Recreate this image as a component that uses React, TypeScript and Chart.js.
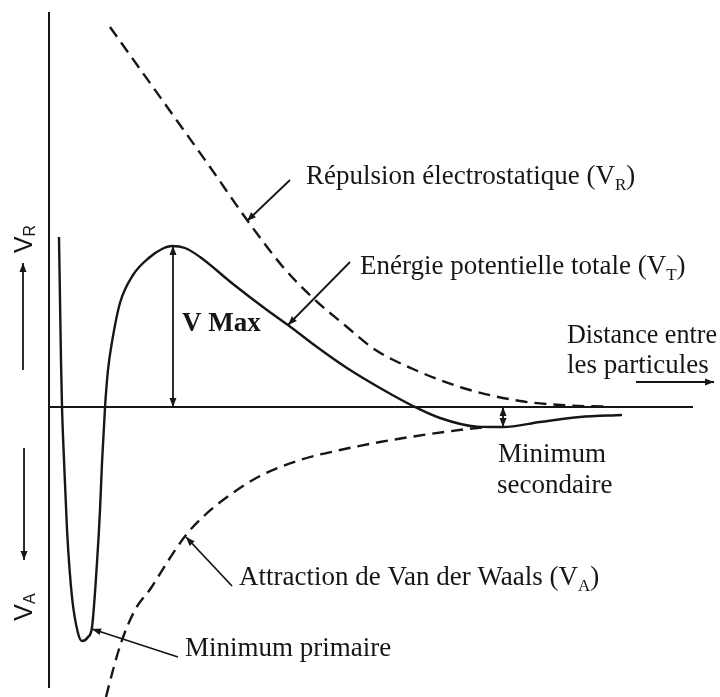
import React, { useEffect, useRef } from "react";
import { Chart, registerables } from "chart.js";

Chart.register(...registerables);

// ---- Data (distance on x: 0..100, energy on y: 0 at the distance axis) ----
const VR_X = [9.47, 14.13, 19.57, 25.0, 30.75, 36.34, 40.99, 46.27, 50.47, 56.52, 64.29, 73.14, 80.43, 86.34];
const VR_Y = [95, 84.5, 72.25, 60, 46.75, 35, 27.25, 20, 14.5, 9.5, 4.75, 1.5, 0.4, 0.1];

const VT_X = [1.55, 1.71, 1.86, 2.02, 2.33, 2.8, 3.57, 4.5, 5.12, 6.06, 6.68, 7.45, 7.92, 8.23, 8.7, 9.16, 9.78, 11.02, 13.04, 15.68, 17.55, 19.1, 21.12, 23.45, 28.57, 33.85, 37.11, 41.61, 46.27, 51.4, 56.52, 60.71, 66.46, 70.5, 76.24, 82.45, 88.97];
const VT_Y = [42.5, 26.75, 11.75, 0, -13.25, -30.75, -47.5, -56.5, -58.5, -57.5, -55, -39, -25.75, -14, 0, 9.25, 16.25, 26, 33, 37.5, 39.5, 40.25, 39.75, 37.5, 30.75, 24.25, 20.5, 15, 9.75, 4.75, 0.25, -2.75, -4.9, -5, -3.75, -2.5, -2];

const VA_X = [8.85, 9.94, 11.18, 13.35, 15.84, 18.48, 21.27, 24.22, 27.02, 32.76, 38.98, 45.19, 51.4, 59.16, 66.46, 68.48];
const VA_Y = [-72.5, -65.75, -59, -50.75, -45.25, -38.5, -32, -27, -23.25, -17.25, -13.25, -10.75, -8.75, -6.75, -5.25, -5];

const AXIS_X = [0, 100];
const AXIS_Y = [98.75, -70.25];

// ---- Annotations (data units) ----
type Part = [string, boolean?];
const TEXTS: { parts: Part[]; x: number; y: number; bold?: boolean; maxW?: number }[] = [
  { parts: [["Répulsion électrostatique (V"], ["R", true], [")"]], x: 39.91, y: 55.75 },
  { parts: [["Enérgie potentielle totale (V"], ["T", true], [")"]], x: 48.29, y: 33.25 },
  { parts: [["V Max"]], x: 20.65, y: 19, bold: true },
  { parts: [["Distance entre"]], x: 80.43, y: 16, maxW: 150 },
  { parts: [["les particules"]], x: 80.43, y: 8.6, maxW: 142 },
  { parts: [["Minimum"]], x: 69.72, y: -13.75 },
  { parts: [["secondaire"]], x: 69.57, y: -21.5 },
  { parts: [["Attraction de Van der Waals (V"], ["A", true], [")"]], x: 29.5, y: -44.5 },
  { parts: [["Minimum primaire"]], x: 21.12, y: -62.25 },
];

const SIDE_LABELS: { parts: Part[]; x: number; y: number }[] = [
  { parts: [["V"], ["R", true]], x: -3.73, y: 42.0 },
  { parts: [["V"], ["A", true]], x: -3.73, y: -50 },
];

// V Max: the barrier top (ignoring the steep wall at contact); secondary minimum beyond it
const barrierIdx = VT_X.map((x, i) => i).filter((i) => VT_X[i] > 5).reduce((a, b) => (VT_Y[b] > VT_Y[a] ? b : a));
const secIdx = VT_X.map((x, i) => i).filter((i) => VT_X[i] > 40).reduce((a, b) => (VT_Y[b] < VT_Y[a] ? b : a));

const ARROWS: { from: [number, number]; to: [number, number]; both?: boolean }[] = [
  { from: [37.42, 56.75], to: [30.75, 46.5] },
  { from: [46.74, 36.25], to: [37.11, 20.5] },
  { from: [28.42, -44.75], to: [21.27, -32.5] },
  { from: [20.03, -62.5], to: [6.68, -55.5] },
  { from: [91.15, 6.25], to: [103.26, 6.25] },
  { from: [-4.04, 9.25], to: [-4.04, 36] },
  { from: [-3.88, -10.25], to: [-3.88, -38.25] },
  { from: [VT_X[barrierIdx] + 0.15, 0], to: [VT_X[barrierIdx] + 0.15, VT_Y[barrierIdx]], both: true },
  { from: [VT_X[secIdx], 0], to: [VT_X[secIdx], VT_Y[secIdx]], both: true },
];

const INK = "#161616";

function pts(xs: number[], ys: number[]) {
  return xs.map((x, i) => ({ x, y: ys[i] }));
}

function drawRich(ctx: CanvasRenderingContext2D, parts: Part[], x: number, y: number, size: number, family: string, bold?: boolean, center?: boolean, maxW?: number) {
  const main = `${bold ? "bold " : ""}${size}px ${family}`;
  const subSize = Math.round(size * 0.62);
  const subF = `${bold ? "bold " : ""}${subSize}px ${family}`;
  let total = 0;
  for (const [t, s] of parts) {
    ctx.font = s ? subF : main;
    total += ctx.measureText(t).width;
  }
  const k = maxW && total > maxW ? maxW / total : 1;
  ctx.save();
  ctx.translate(center ? x - (total * k) / 2 : x, y);
  ctx.scale(k, 1);
  let cx = 0;
  for (const [t, s] of parts) {
    ctx.font = s ? subF : main;
    ctx.fillText(t, cx, s ? size * 0.22 : 0);
    cx += ctx.measureText(t).width;
  }
  ctx.restore();
}

function arrowHead(ctx: CanvasRenderingContext2D, x1: number, y1: number, x2: number, y2: number) {
  const a = Math.atan2(y2 - y1, x2 - x1);
  const L = 9, W = 3.5;
  ctx.beginPath();
  ctx.moveTo(x2, y2);
  ctx.lineTo(x2 - L * Math.cos(a) + W * Math.sin(a), y2 - L * Math.sin(a) - W * Math.cos(a));
  ctx.lineTo(x2 - L * Math.cos(a) - W * Math.sin(a), y2 - L * Math.sin(a) + W * Math.cos(a));
  ctx.closePath();
  ctx.fill();
}

const annotationPlugin = {
  id: "dlvoAnnotations",
  afterDatasetsDraw(chart: any) {
    const ctx: CanvasRenderingContext2D = chart.ctx;
    const xs = chart.scales.x;
    const ys = chart.scales.y;
    const px = (v: number) => xs.getPixelForValue(v);
    const py = (v: number) => ys.getPixelForValue(v);
    ctx.save();
    ctx.strokeStyle = INK;
    ctx.fillStyle = INK;
    ctx.lineWidth = 1.8;
    ctx.setLineDash([]);
    for (const a of ARROWS) {
      const x1 = px(a.from[0]), y1 = py(a.from[1]), x2 = px(a.to[0]), y2 = py(a.to[1]);
      ctx.beginPath();
      ctx.moveTo(x1, y1);
      ctx.lineTo(x2, y2);
      ctx.stroke();
      arrowHead(ctx, x1, y1, x2, y2);
      if (a.both) arrowHead(ctx, x2, y2, x1, y1);
    }
    ctx.textBaseline = "alphabetic";
    ctx.textAlign = "left";
    for (const t of TEXTS) {
      drawRich(ctx, t.parts, px(t.x), py(t.y), 27, '"Liberation Serif", serif', t.bold, false, t.maxW);
    }
    for (const s of SIDE_LABELS) {
      ctx.save();
      ctx.translate(px(s.x), py(s.y));
      ctx.rotate(-Math.PI / 2);
      ctx.textBaseline = "middle";
      drawRich(ctx, s.parts, 0, 0, 25, '"Liberation Sans", sans-serif', false, true);
      ctx.restore();
    }
    ctx.restore();
  },
};

export default function App() {
  const ref = useRef<HTMLCanvasElement | null>(null);
  useEffect(() => {
    if (!ref.current) return;
    const solid = { borderColor: INK, borderWidth: 2.4, pointRadius: 0, fill: false };
    const chart = new Chart(ref.current, {
      type: "line",
      data: {
        datasets: [
          { ...solid, borderWidth: 2, data: pts(AXIS_X, [0, 0]), tension: 0 },
          { ...solid, borderWidth: 2, data: pts([0, 0], AXIS_Y), tension: 0 },
          { ...solid, data: pts(VR_X, VR_Y), borderDash: [12, 7], cubicInterpolationMode: "monotone" },
          { ...solid, data: pts(VA_X, VA_Y), borderDash: [12, 7], cubicInterpolationMode: "monotone" },
          { ...solid, data: pts(VT_X, VT_Y), cubicInterpolationMode: "monotone" },
        ] as any,
      },
      options: {
        animation: false,
        responsive: false,
        devicePixelRatio: 1,
        layout: { padding: 0 },
        plugins: { legend: { display: false }, tooltip: { enabled: false } },
        events: [],
        scales: {
          x: { type: "linear", min: -7.609, max: 104.19, display: false },
          y: { type: "linear", min: -72.5, max: 101.75, display: false },
        },
      },
      plugins: [annotationPlugin],
    });
    return () => chart.destroy();
  }, []);
  return (
    <div style={{ position: "absolute", left: 0, top: 0, width: 720, height: 697, background: "#fff" }}>
      <canvas ref={ref} width={720} height={697} style={{ display: "block", width: 720, height: 697 }} />
    </div>
  );
}
